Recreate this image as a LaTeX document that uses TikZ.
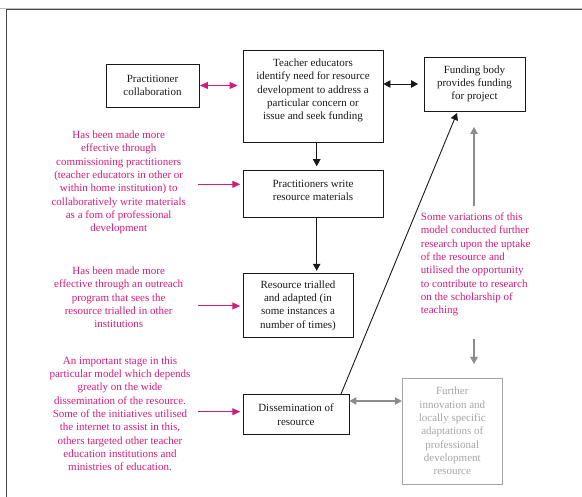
\documentclass[tikz,border=0pt]{standalone}
\usepackage{fontspec}
\setmainfont{Liberation Serif}
\usetikzlibrary{arrows.meta}

\definecolor{note}{RGB}{210,28,120}
\definecolor{boxline}{RGB}{25,25,25}
\definecolor{faint}{RGB}{165,165,165}
\definecolor{faintarrow}{RGB}{140,140,140}
\definecolor{frameline}{RGB}{70,70,70}

\tikzset{
  stepbox/.style={draw=boxline, line width=0.9pt, align=center, inner sep=0pt,
    font=\fontsize{11}{13.3}\selectfont, text=black!90},
  greybox/.style={draw=faint, line width=0.9pt, align=center, inner sep=0pt,
    font=\fontsize{11}{13.3}\selectfont, text=faint},
  notetext/.style={text=note, inner sep=0pt, font=\fontsize{11}{13.3}\selectfont},
  flow/.style={draw=boxline, line width=0.9pt, -{Triangle[length=7pt,width=7.5pt]}},
  flowboth/.style={draw=boxline, line width=0.9pt, {Triangle[length=7pt,width=7.5pt]}-{Triangle[length=7pt,width=7.5pt]}},
  notearrow/.style={draw=note, line width=1pt, -{Triangle[length=8pt,width=7pt]}},
  noteboth/.style={draw=note, line width=1pt, {Triangle[length=8pt,width=7pt]}-{Triangle[length=8pt,width=7pt]}},
  greyarrow/.style={draw=faintarrow, line width=1.1pt, -{Triangle[length=7pt,width=7.5pt]}},
  greyboth/.style={draw=faintarrow, line width=1.1pt, {Triangle[length=7pt,width=7.5pt]}-{Triangle[length=7pt,width=7.5pt]}},
}

\begin{document}
\begin{tikzpicture}[x=1pt, y=-1pt]
  \useasboundingbox (0,0) rectangle (582,497);

  % page frame
  \draw[black!25, line width=0.8pt] (0,8.5) -- (582,8.5);
  \draw[frameline, line width=1pt] (582,10) -- (6,10) -- (6,497);

  % process boxes
  \node[stepbox, minimum width=93pt, minimum height=43pt] (collab) at (152.5,85.5)
    {Practitioner\\collaboration};
  \node[stepbox, minimum width=140pt, minimum height=92pt] (teach) at (313,96)
    {Teacher educators\\identify need for resource\\development to address a\\particular concern or\\issue and seek funding\\ \mbox{}};
  \node[stepbox, minimum width=101pt, minimum height=54pt] (fund) at (474.5,84)
    {Funding body\\provides funding\\for project};
  \node[stepbox, minimum width=140pt, minimum height=47pt] (write) at (313,194.2)
    {Practitioners write\\resource materials\\[-5pt]\mbox{}};
  \node[stepbox, minimum width=110pt, minimum height=64.5pt] (trial) at (298,305.5)
    {Resource trialled\\and adapted (in\\some instances a\\number of times)};
  \node[stepbox, minimum width=106pt, minimum height=39.5pt] (dissem) at (296,414.7)
    {Dissemination of\\resource};
  \node[greybox, minimum width=100pt, minimum height=106pt] (further) at (452.3,431)
    {Further\\innovation and\\locally specific\\adaptations of\\professional\\development\\resource};

  % explanatory notes
  \node[notetext, align=center] (note1) at (118.7,182.5)
    {Has been made more\\effective through\\commissioning practitioners\\(teacher educators in other or\\within home institution) to\\collaboratively write materials\\as a fom of professional\\development};
  \node[notetext, align=center] (note2) at (118.7,297.5)
    {Has been made more\\effective through an outreach\\program that sees the\\resource trialled in other\\institutions};
  \node[notetext, align=center] (note3) at (120,413.7)
    {An important stage in this\\particular model which depends\\greatly on the wide\\dissemination of the resource.\\Some of the initiatives utilised\\the internet to assist in this,\\others targeted other teacher\\education institutions and\\ministries of education.};
  \node[notetext, align=left, anchor=west] (note4) at (420.7,264.5)
    {Some variations of this\\model conducted further\\research upon the uptake\\of the resource and\\utilised the opportunity\\to contribute to research\\on the scholarship of\\teaching};

  % free ends of connectors
  \coordinate (n1end) at (198,184.3);
  \coordinate (n2end) at (198,306);
  \coordinate (n3end) at (198,411.7);
  \coordinate (dstart) at (341,394);
  \coordinate (ftip) at (457,113);
  \coordinate (upstart) at (474,206);
  \coordinate (uptip) at (474,127);
  \coordinate (downstart) at (474,339);
  \coordinate (downtip) at (474,364);

  % connectors
  \draw[noteboth, shorten <=0.5pt, shorten >=5pt] (collab) -- (teach.west |- collab);
  \draw[flowboth, shorten >=5.5pt] (teach.east |- fund) -- (fund);
  \draw[flow, shorten >=4pt] (teach.south -| 316.7,0) -- (write.north -| 316.7,0);
  \draw[flow, shorten >=2pt] (write.south -| 316.7,0) -- (trial.north -| 316.7,0);
  \draw[flow] (dstart) -- (ftip);
  \draw[greyboth] (dissem.east |- 0,401) -- (further.west |- 0,401);
  \draw[greyarrow] (upstart) -- (uptip);
  \draw[greyarrow] (downstart) -- (downtip);

  \draw[notearrow, shorten >=2.3pt] (n1end) -- (write.west |- n1end);
  \draw[notearrow, shorten >=2.3pt] (n2end) -- (trial.west |- n2end);
  \draw[notearrow, shorten >=2.3pt] (n3end) -- (dissem.west |- n3end);
\end{tikzpicture}
\end{document}
